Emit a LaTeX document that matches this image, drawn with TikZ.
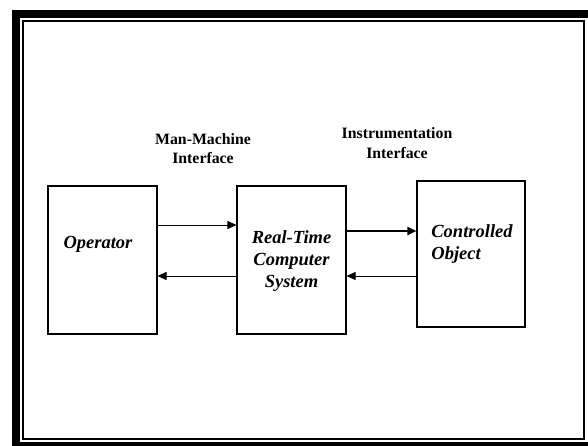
\documentclass[tikz,border=0pt]{standalone}
\usepackage{fontspec}
\setmainfont{Liberation Serif}
\usetikzlibrary{arrows.meta}
\begin{document}
\begin{tikzpicture}[x=1pt,y=-1pt,
  blockbox/.style={draw=black,line width=1.1pt,minimum width=#1,inner sep=0pt},
  blocktext/.style={font=\fontsize{18.5}{22}\selectfont\bfseries\itshape,align=left,inner sep=0pt},
  labeltext/.style={font=\fontsize{15.8}{19.5}\selectfont\bfseries,align=center,inner sep=0pt},
  flow/.style={line width=1pt,-{Triangle[length=9pt,width=8pt]}},
  flowthick/.style={line width=2pt,-{Triangle[length=9pt,width=8pt]}}
]
\useasboundingbox (0,0) rectangle (588,445);
\begin{scope}
\clip (0,0) rectangle (588,445);
\draw[line width=8pt] (16,14) rectangle (610,446);
\end{scope}
\draw[line width=2pt] (23,21) rectangle (584,439);

\node[blockbox=109pt,minimum height=148pt] (op) at (102.5,260) {};
\node[blockbox=109pt,minimum height=148pt] (rt) at (291.5,260) {};
\node[blockbox=108pt,minimum height=146pt] (co) at (471,254) {};

\node[blocktext] (optext) at (98,244) {Operator};
\node[blocktext,align=center] (rttext) at (291.5,261) {Real-Time\\Computer\\System};
\node[blocktext] (cotext) at (472,244.5) {Controlled\\Object};

\node[labeltext] (mmi) at (203,148.5) {Man-Machine\\Interface};
\node[labeltext] (ii) at (397,143) {Instrumentation\\Interface};

\draw[flow] (op.east |- 0,225) -- (rt.west |- 0,225);
\draw[flow] (rt.west |- 0,276) -- (op.east |- 0,276);
\draw[flowthick] (rt.east |- 0,231) -- (co.west |- 0,231);
\draw[flow] (co.west |- 0,276) -- (rt.east |- 0,276);
\end{tikzpicture}
\end{document}
